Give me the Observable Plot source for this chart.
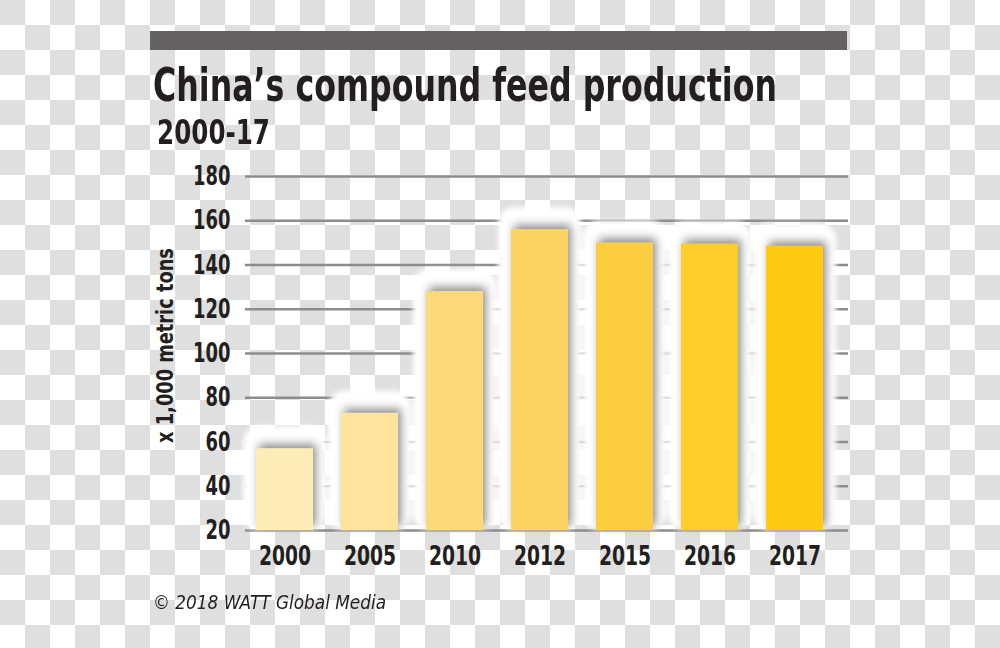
<!DOCTYPE html>
<html>
<head>
<meta charset="utf-8">
<script src="https://cdn.jsdelivr.net/npm/d3@7"></script>
<script src="https://cdn.jsdelivr.net/npm/@observablehq/plot@0.6"></script>
<style>
  html, body { margin: 0; padding: 0; }
  body {
    width: 1000px; height: 648px; position: relative; overflow: hidden;
    background-color: #ffffff;
    background-image:
      linear-gradient(45deg, #dfdfdf 25%, transparent 25%, transparent 75%, #dfdfdf 75%),
      linear-gradient(45deg, #dfdfdf 25%, transparent 25%, transparent 75%, #dfdfdf 75%);
    background-size: 50px 50px;
    background-position: 25px 0, 0 25px;
    font-family: "DejaVu Sans Condensed", "DejaVu Sans", sans-serif;
  }
  #topbar { position: absolute; left: 150px; top: 31px; width: 697px; height: 19px; background: #646263; }
  .fit { position: absolute; white-space: nowrap; transform-origin: 0 0; color: #231f20; }
  #title { left: 153px; top: 57px; font-size: 47px; font-weight: bold; }
  #subtitle { left: 157px; top: 113px; font-size: 33px; font-weight: bold; }
  #chart { position: absolute; left: 0; top: 160px; }
  #caption { left: 153px; top: 591px; font-size: 19px; font-style: italic; font-family: "DejaVu Sans", sans-serif; }
</style>
</head>
<body>
<div id="topbar"></div>
<div id="title" class="fit" data-w="624">China’s compound feed production</div>
<div id="subtitle" class="fit" data-w="113">2000-17</div>
<div id="chart"></div>
<div id="caption" class="fit" data-w="233">© 2018 WATT Global Media</div>
<script>
const years = ["2000", "2005", "2010", "2012", "2015", "2016", "2017"];
const production = [57, 73, 128, 156, 150, 149.5, 148.5];
const barColors = ["#feecb6", "#fde39c", "#fdd978", "#fdd461", "#fdcf40", "#fecd2a", "#ffca10"];
const yTicks = [20, 40, 60, 80, 100, 120, 140, 160, 180];
const yLabel = "x 1,000 metric tons";

const data = years.map((y, i) => ({year: y, value: production[i], color: barColors[i]}));

const font = '"DejaVu Sans Condensed", "DejaVu Sans", sans-serif';

const plot = Plot.plot({
  width: 1000,
  height: 420,
  marginTop: 16,
  marginBottom: 50,
  marginLeft: 245,
  marginRight: 152,
  style: {
    background: "transparent",
    fontFamily: font,
    fontSize: "25px",
    fontWeight: "bold",
    color: "#231f20",
    overflow: "visible"
  },
  x: {
    domain: years,
    paddingInner: 0.33,
    paddingOuter: 0.21,
    align: 0.3,
    label: null,
    axis: null
  },
  y: {
    domain: [20, 180],
    label: null,
    axis: null
  },
  marks: [
    Plot.ruleY(yTicks, {stroke: "#8c8c8e", strokeWidth: 2.5}),
    Plot.barY(data, {x: "year", y1: 20, y2: "value", fill: "white", insetLeft: -13, insetRight: -13, insetTop: -22, rx: 16}),
    Plot.barY(data, {x: "year", y1: 20, y2: "value", fill: "color"}),
    Plot.axisY(yTicks, {tickSize: 0, tickPadding: 15, fontSize: 27, label: null}),
    Plot.axisX(years, {tickSize: 0, tickPadding: 16, fontSize: 26, label: null}),
    Plot.text([yLabel], {frameAnchor: "left", textAnchor: "middle", rotate: -90, dx: -80, dy: -8, fontSize: 23, fill: "#231f20"})
  ]
});

document.getElementById("chart").appendChild(plot);

const bars = d3.select(plot).selectAll('g[aria-label="bar"]').nodes();
if (bars.length >= 2) {
  d3.select(bars[0]).style("filter", "blur(2.5px)");
  d3.select(bars[1]).style("filter", "drop-shadow(3px -4px 5px rgba(0,0,0,0.45))");
}

// condense SVG text horizontally (reference uses a condensed typeface)
function squeeze(selector, s) {
  d3.select(plot).selectAll(selector).each(function() {
    const t = this.getAttribute("transform") || "";
    this.setAttribute("transform", t + ` scale(${s},1)`);
  });
}
function fitSvgText(selector, target) {
  d3.select(plot).selectAll(selector).each(function() {
    const w = this.getComputedTextLength();
    const t = this.getAttribute("transform") || "";
    this.setAttribute("transform", t + ` scale(${target / w},1)`);
  });
}
squeeze('g[aria-label="x-axis tick label"] text', 0.8);
squeeze('g[aria-label="y-axis tick label"] text', 0.74);
fitSvgText('g[aria-label="text"] text', 195);

// condense HTML text to the reference widths
document.querySelectorAll(".fit").forEach(el => {
  const w = el.getBoundingClientRect().width;
  const target = +el.dataset.w;
  el.style.transform = `scaleX(${target / w})`;
});
</script>
</body>
</html>
